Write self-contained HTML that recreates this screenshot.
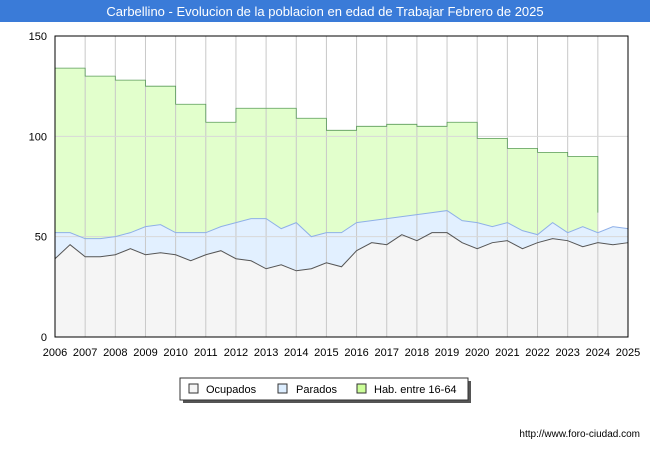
<!DOCTYPE html>
<html><head><meta charset="utf-8"><style>
body{margin:0;background:#fff;font-family:"Liberation Sans",sans-serif}
</style></head><body>
<svg id="c" width="650" height="450" xmlns="http://www.w3.org/2000/svg" font-family="Liberation Sans, sans-serif">
<rect x="0" y="0" width="650" height="22" fill="#3a7bd8"/>
<text x="325" y="16" text-anchor="middle" font-size="13" fill="#fff">Carbellino - Evolucion de la poblacion en edad de Trabajar Febrero de 2025</text>
<g id="plot"></g>
<g>
<rect x="183" y="381" width="288" height="22" fill="#555"/>
<rect x="180" y="378" width="288" height="22" fill="#fff" stroke="#333"/>
<rect x="189" y="384" width="9" height="9" fill="#f5f5f5" stroke="#333"/>
<text x="206" y="393" font-size="11">Ocupados</text>
<rect x="278" y="384" width="9" height="9" fill="#ddeeff" stroke="#333"/>
<text x="296" y="393" font-size="11">Parados</text>
<rect x="357" y="384" width="9" height="9" fill="#ccff99" stroke="#333"/>
<text x="374" y="393" font-size="11">Hab. entre 16-64</text>
</g>
<text x="640" y="437" text-anchor="end" font-size="10">http://www.foro-ciudad.com</text>
</svg>
<script>
const years=[2006,2007,2008,2009,2010,2011,2012,2013,2014,2015,2016,2017,2018,2019,2020,2021,2022,2023,2024,2025];
const yTicks=[0,50,100,150];
const habYears=[2006,2007,2008,2009,2010,2011,2012,2013,2014,2015,2016,2017,2018,2019,2020,2021,2022,2023];
const hab=[134,130,128,125,116,107,114,114,109,103,105,106,105,107,99,94,92,90];
const habLast=62;
const ocupados=[39,46,40,40,41,44,41,42,41,38,41,43,39,38,34,36,33,34,37,35,43,47,46,51,48,52,52,47,44,47,48,44,47,49,48,45,47,46,47];
const parados=[13,6,9,9,9,8,14,14,11,14,11,12,18,21,25,18,24,16,15,17,14,11,13,9,13,10,11,11,13,8,9,9,4,8,4,10,5,9,7];
const NS="http://www.w3.org/2000/svg";
const L=55,R=628,T=36,B=337;
const x=t=>L+(t-2006)/(2025-2006)*(R-L);
const y=v=>B-v/150*(B-T);
const g=document.getElementById('plot');
function el(tag,a){const e=document.createElementNS(NS,tag);for(const k in a)e.setAttribute(k,a[k]);g.appendChild(e);return e;}
let e;
// hab area
let d='M'+x(2006)+','+y(0);
habYears.forEach((yr,i)=>{d+=' L'+x(yr)+','+y(hab[i])+' L'+x(yr+1)+','+y(hab[i]);});
d+=' L'+x(2024)+','+y(habLast)+' L'+x(2024)+','+y(0)+'Z';
e=el('path',{d:d,fill:'#e2ffcc',stroke:'none'});


const tx=i=>x(2006+i*0.5);
const tot=ocupados.map((v,i)=>v+parados[i]);
let pa='M'+tx(0)+','+y(0);tot.forEach((v,i)=>pa+=' L'+tx(i)+','+y(v));pa+=' L'+tx(tot.length-1)+','+y(0)+'Z';
e=el('path',{d:pa,fill:'#e2f0ff'});


let oa='M'+tx(0)+','+y(0);ocupados.forEach((v,i)=>oa+=' L'+tx(i)+','+y(v));oa+=' L'+tx(ocupados.length-1)+','+y(0)+'Z';
e=el('path',{d:oa,fill:'#f5f5f5'});


// grid over areas
for(const yr of years){e=el('line',{x1:x(yr),x2:x(yr),y1:T,y2:B,stroke:'#c8c8c8'});

}
for(const v of yTicks){e=el('line',{x1:L,x2:R,y1:y(v),y2:y(v),stroke:'#d8d8d8'});

}
let dl='M'+x(2006)+','+y(hab[0]);
habYears.forEach((yr,i)=>{dl+=' L'+x(yr)+','+y(hab[i])+' L'+x(yr+1)+','+y(hab[i]);});
dl+=' L'+x(2024)+','+y(habLast);
e=el('path',{d:dl,fill:'none',stroke:'#5a9a5a','stroke-width':0.8});


let pl='';tot.forEach((v,i)=>pl+=(i?' L':'M')+tx(i)+','+y(v));
e=el('path',{d:pl,fill:'none',stroke:'#8fb0e8','stroke-width':1});


let ol='';ocupados.forEach((v,i)=>ol+=(i?' L':'M')+tx(i)+','+y(v));
e=el('path',{d:ol,fill:'none',stroke:'#555','stroke-width':1});


// axes frame
e=el('rect',{x:L,y:T,width:R-L,height:B-T,fill:'none',stroke:'#000','stroke-width':1});


for(const v of yTicks){e=el('text',{x:47,y:y(v)+4,'text-anchor':'end','font-size':11});e.textContent=v;

}
for(const yr of years){e=el('text',{x:x(yr),y:356,'text-anchor':'middle','font-size':11});e.textContent=yr;

}
</script>
</body></html>
